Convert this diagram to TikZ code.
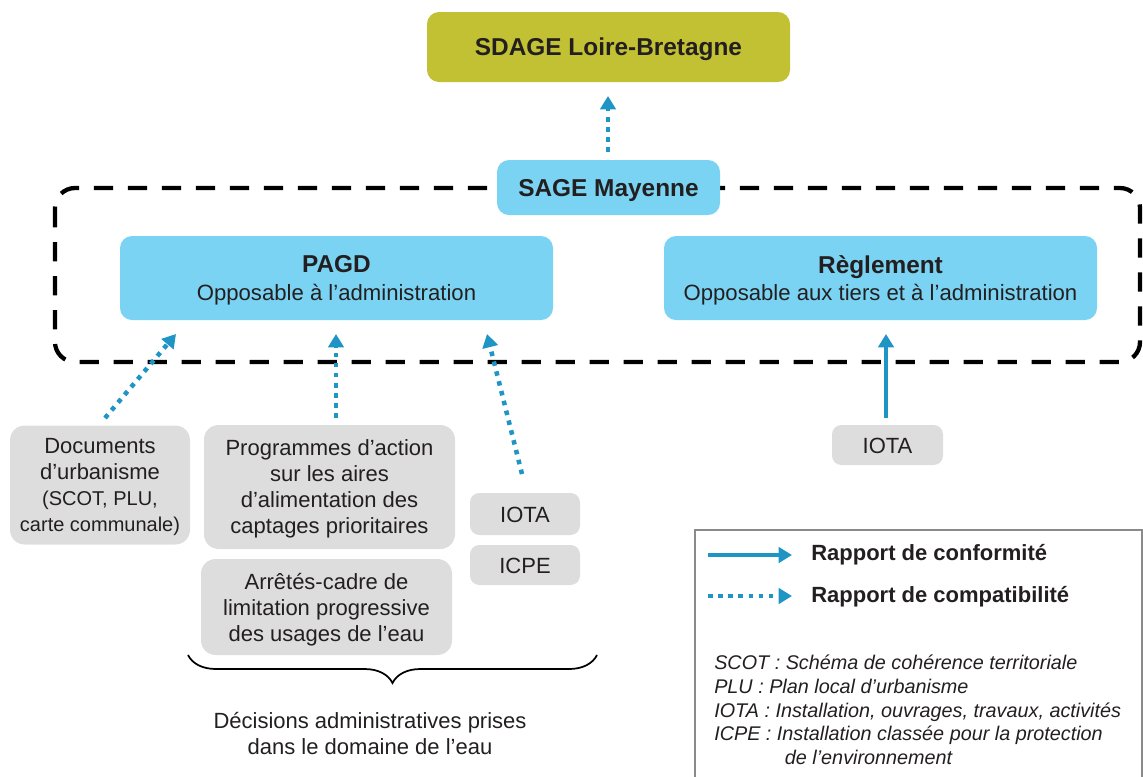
\documentclass[tikz,border=0pt]{standalone}
\usepackage{fontspec}
\setmainfont{Liberation Sans}
\usetikzlibrary{arrows.meta,decorations.pathreplacing}
\definecolor{sdagecol}{HTML}{C2C133}
\definecolor{bluebox}{HTML}{7AD3F2}
\definecolor{greybox}{HTML}{DDDDDD}
\definecolor{arrowblue}{HTML}{1F95C5}
\definecolor{txt}{HTML}{231F20}
\definecolor{legframe}{HTML}{8A8A8A}
\begin{document}
\begin{tikzpicture}[x=0.75pt,y=-0.75pt,
  every node/.style={text=txt, inner sep=0pt},
  bluenode/.style={fill=bluebox, rounded corners=9pt, align=center},
  greynode/.style={fill=greybox, rounded corners=11pt, align=center, text depth=0pt,
    font=\fontsize{16.5pt}{19.5pt}\selectfont},
  compat/.style={arrowblue, line width=3.4pt, dash pattern=on 3.4pt off 4.2pt,
    -{Triangle[width=11.5pt,length=10pt]}},
  conform/.style={arrowblue, line width=3.6pt,
    -{Triangle[width=11.5pt,length=10pt]}},
  frame/.style={line width=3.2pt, dash pattern=on 14.5pt off 11pt},
  legbold/.style={anchor=west, text height=11.8pt, text depth=0pt,
    font=\fontsize{16.5pt}{19pt}\selectfont\bfseries}
]
\useasboundingbox (0,0) rectangle (1143,776);

% dashed SAGE frame
\draw[frame, rounded corners=15pt] (55,188) rectangle (1140,362);

% top boxes
\node[fill=sdagecol, rounded corners=9pt, minimum width=272.25pt, minimum height=52.5pt,
  text height=13.1pt, text depth=0pt,
  font=\fontsize{18.3pt}{22pt}\selectfont\bfseries] (sdage) at (608.5,47) {SDAGE Loire-Bretagne};
\node[bluenode, minimum width=167.25pt, minimum height=41.25pt,
  text height=13.1pt, text depth=0pt,
  font=\fontsize{18.3pt}{22pt}\selectfont\bfseries] (sage) at (608.5,187.5) {SAGE Mayenne};
\node[bluenode, minimum width=324.75pt, minimum height=63pt, text depth=-4pt,
  font=\fontsize{16.6pt}{20.5pt}\selectfont] (pagd) at (336.5,278)
  {{\fontsize{18.3pt}{20.5pt}\selectfont\bfseries PAGD}\\
   Opposable à l’administration};
\node[bluenode, minimum width=324.75pt, minimum height=63pt, text depth=-4pt,
  font=\fontsize{16.6pt}{20.5pt}\selectfont] (regl) at (880.5,278)
  {{\fontsize{18.3pt}{20.5pt}\selectfont\bfseries Règlement}\\
   Opposable aux tiers et à l’administration};

% grey boxes
\node[greynode, minimum width=135pt, minimum height=89.25pt] (docs) at (100,485)
  {Documents\\d’urbanisme\\{\fontsize{15pt}{18.5pt}\selectfont (SCOT, PLU,}\\{\fontsize{15pt}{17.5pt}\selectfont carte communale)}};
\node[greynode, minimum width=188.25pt, minimum height=93pt] (prog) at (329.5,487)
  {Programmes d’action\\sur les aires\\d’alimentation des\\captages prioritaires};
\node[greynode, minimum width=188.25pt, minimum height=72pt] (arr) at (326.5,607)
  {Arrêtés-cadre de\\limitation progressive\\des usages de l’eau};
\node[greynode, rounded corners=7pt, minimum width=82.5pt, minimum height=31.5pt, text height=12pt] (iota) at (525,514) {IOTA};
\node[greynode, rounded corners=7pt, minimum width=82.5pt, minimum height=30pt, text height=12pt] (icpe) at (525,565) {ICPE};
\node[greynode, rounded corners=7pt, minimum width=83.25pt, minimum height=30pt, text height=12pt] (iotab) at (887.5,445) {IOTA};

% connectors
\coordinate (sageout) at (608,152);
\coordinate (sdagein) at (608,96);
\draw[compat] (sageout) -- (sdagein);
\coordinate (docsout) at (105,418);
\coordinate (docsin) at (176,334);
\draw[compat] (docsout) -- (docsin);
\coordinate (progout) at (336,418);
\coordinate (progin) at (336,334);
\draw[compat] (progout) -- (progin);
\coordinate (iotaout) at (522,474);
\coordinate (iotain) at (487,334);
\draw[compat] (iotaout) -- (iotain);
\coordinate (iotabout) at (886,418);
\coordinate (iotabin) at (886,334);
\draw[conform] (iotabout) -- (iotabin);

% brace
\coordinate (brl) at (188,655);
\coordinate (brr) at (597,655);
\draw[line width=1.3pt, decorate, decoration={brace, mirror, amplitude=21pt}] (brl) -- (brr);
\node[align=center, font=\fontsize{16.5pt}{19.5pt}\selectfont] (decis) at (370,733)
  {Décisions administratives prises\\dans le domaine de l’eau};

% legend
\draw[legframe, line width=1.5pt] (695,530) rectangle (1142,790);
\coordinate (l1a) at (708,555);
\coordinate (l1b) at (792,555);
\draw[conform] (l1a) -- (l1b);
\node[legbold] (lconf) at (811,553) {Rapport de conformité};
\coordinate (l2a) at (708,596);
\coordinate (l2b) at (792,596);
\draw[compat] (l2a) -- (l2b);
\node[legbold] (lcomp) at (811,595) {Rapport de compatibilité};
\node[anchor=north west, align=left, font=\fontsize{14.85pt}{17.7pt}\selectfont\itshape] (abbr) at (714,655)
  {SCOT : Schéma de cohérence territoriale\\
   PLU : Plan local d’urbanisme\\
   IOTA : Installation, ouvrages, travaux, activités\\
   ICPE : Installation classée pour la protection\\
   \hspace*{53pt}de l’environnement};
\end{tikzpicture}
\end{document}
